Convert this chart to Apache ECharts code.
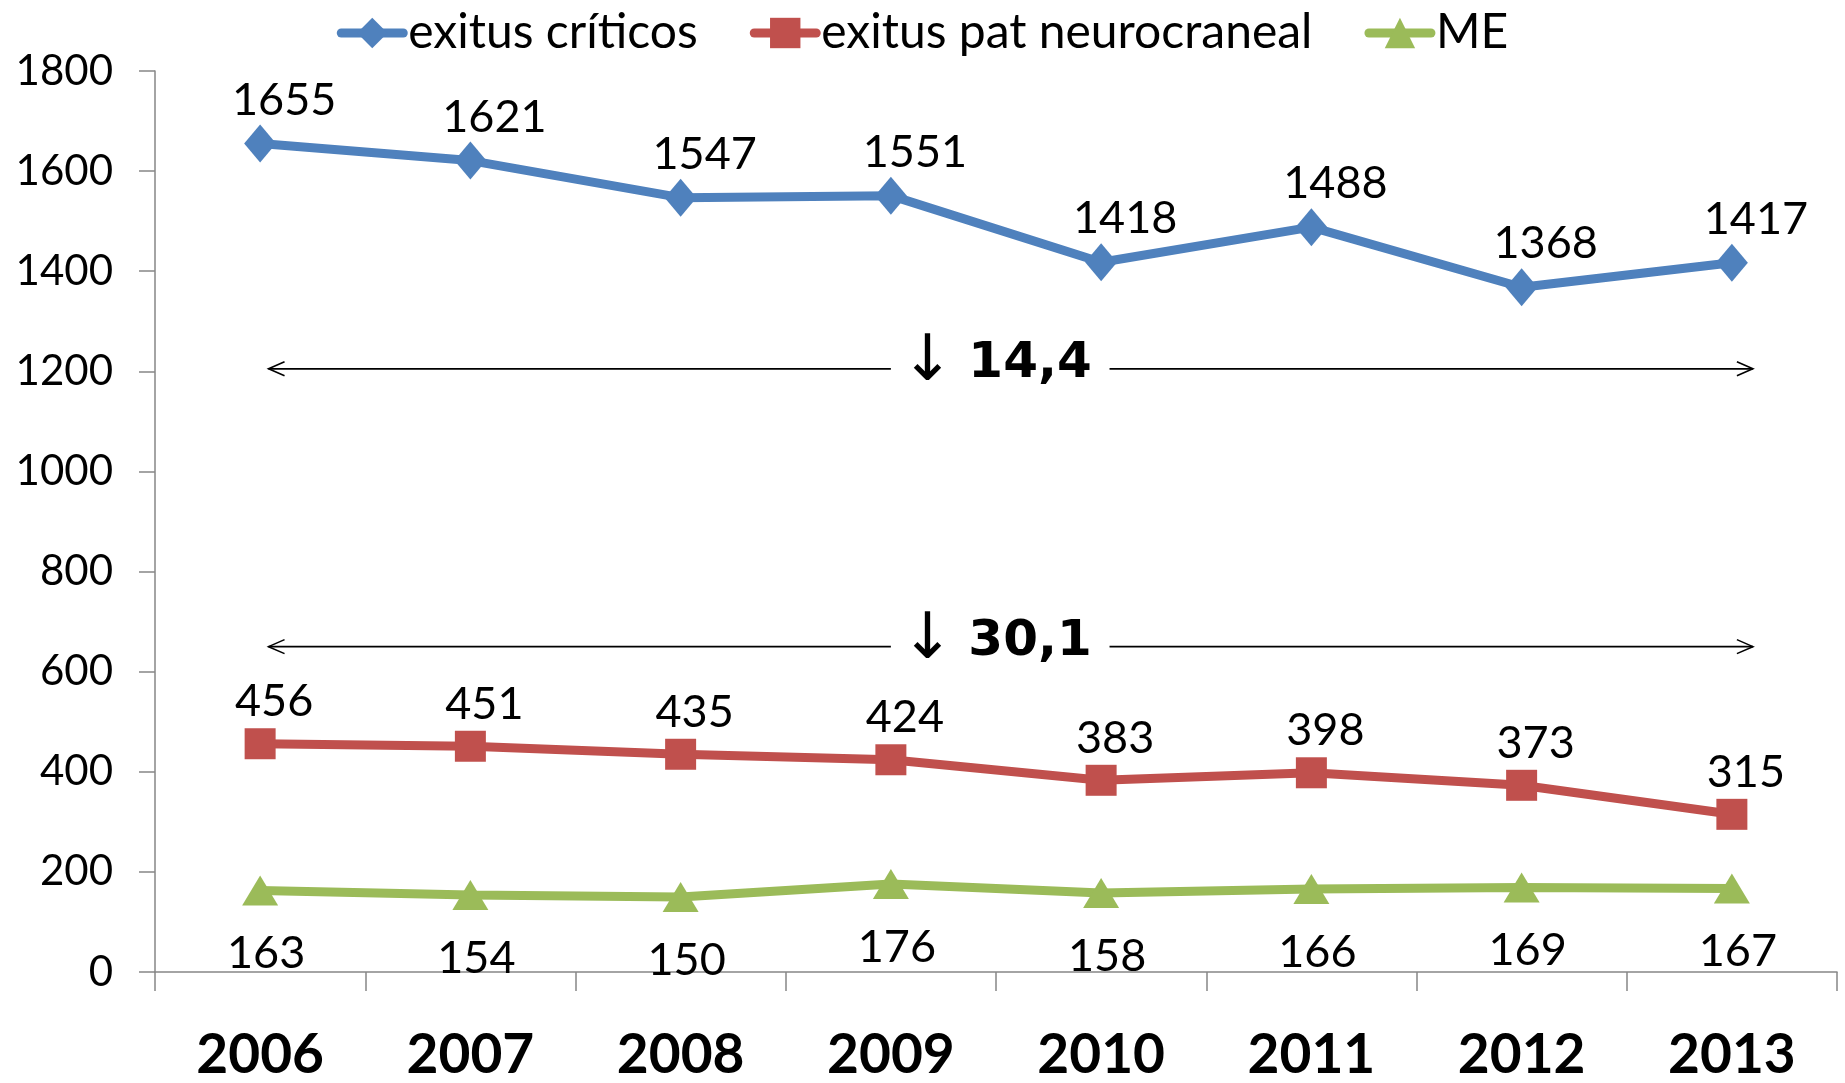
<!DOCTYPE html>
<html>
<head>
<meta charset="utf-8">
<script src="https://cdn.jsdelivr.net/npm/echarts@6/dist/echarts.min.js"></script>
<style>
html,body{margin:0;padding:0;background:#fff;}
#chart{width:1845px;height:1083px;}
</style>
</head>
<body>
<div id="chart"></div>
<script>
var years = ['2006','2007','2008','2009','2010','2011','2012','2013'];
var exitusCriticos = [1655,1621,1547,1551,1418,1488,1368,1417];
var exitusNeuro = [456,451,435,424,383,398,373,315];
var meValues = [163,154,150,176,158,166,169,167];
var seriesNames = ['exitus críticos','exitus pat neurocraneal','ME'];
var yTicks = {min:0,max:1800,interval:200};
// anotaciones: nivel en el eje y y texto
var annotLevels = [1205,650];
var annotTexts = ['14,4','30,1'];

var font = 'Lato, "Noto Sans", sans-serif';
var chart = echarts.init(document.getElementById('chart'));

var option = {
	animation:false,
	backgroundColor:'#fff',
	textStyle:{fontFamily:font},
	legend:{
		top:4,
		left:'center',
		itemWidth:62,
		itemHeight:38,
		itemGap:52,
		lineStyle:{width:9,cap:'round'},
		textStyle:{fontSize:48,color:'#000',fontFamily:font},
		data:seriesNames
	},
	grid:{left:155,right:8,top:71,bottom:111,containLabel:false},
	xAxis:{
		type:'category',
		data:years,
		axisLine:{lineStyle:{color:'#868686',width:1.5}},
		axisTick:{show:true,length:19,lineStyle:{color:'#868686',width:1.5}},
		axisLabel:{fontSize:55,fontWeight:'bold',color:'#000',margin:56,fontFamily:font},
		splitLine:{show:false}
	},
	yAxis:{
		type:'value',
		min:yTicks.min,max:yTicks.max,interval:yTicks.interval,
		axisLine:{show:true,lineStyle:{color:'#868686',width:1.5}},
		axisTick:{show:true,length:16,lineStyle:{color:'#868686',width:1.5}},
		axisLabel:{fontSize:42,color:'#000',margin:42,fontFamily:font,formatter:function(v){return String(v);}},
		splitLine:{show:false}
	},
	series:[{
		name:seriesNames[0],
		type:'line',
		data:exitusCriticos,
		symbol:'diamond',
		symbolSize:[32,38],
		lineStyle:{color:'#4F81BD',width:9},
		itemStyle:{color:'#4F81BD'},
		label:{show:true,position:'top',distance:2,offset:[24,0],fontSize:45,color:'#000',fontFamily:font}
	},{
		name:seriesNames[1],
		type:'line',
		data:exitusNeuro,
		symbol:'rect',
		symbolSize:31,
		lineStyle:{color:'#C0504D',width:9},
		itemStyle:{color:'#C0504D'},
		label:{show:true,position:'top',distance:4,offset:[14,0],fontSize:45,color:'#000',fontFamily:font}
	},{
		name:seriesNames[2],
		type:'line',
		data:meValues,
		symbol:'triangle',
		symbolSize:[36,30],
		lineStyle:{color:'#9BBB59',width:9},
		itemStyle:{color:'#9BBB59'},
		label:{show:true,position:'bottom',distance:26,offset:[6,0],fontSize:45,color:'#000',fontFamily:font}
	}]
};
chart.setOption(option);

// flechas dobles con el texto en el centro
function drawAnnotations(){
	var x0 = chart.convertToPixel({xAxisIndex:0},years[0]);
	var x1 = chart.convertToPixel({xAxisIndex:0},years[1]);
	var step = x1-x0;
	function px(f){return x0+f*step;}
	var left = px(0.04), right = px(7.1), gapL = px(3.0), gapR = px(4.04);
	var els = [];
	for(var i=0;i<annotLevels.length;i++){
		var y = chart.convertToPixel({yAxisIndex:0},annotLevels[i]);
		var st = {stroke:'#000',lineWidth:1.6,fill:null};
		els.push({type:'line',shape:{x1:left,y1:y,x2:gapL,y2:y},style:st,silent:true});
		els.push({type:'line',shape:{x1:gapR,y1:y,x2:right,y2:y},style:st,silent:true});
		els.push({type:'polyline',shape:{points:[[left+16,y-7],[left,y],[left+16,y+7]]},style:st,silent:true});
		els.push({type:'polyline',shape:{points:[[right-16,y-7],[right,y],[right-16,y+7]]},style:st,silent:true});
		els.push({
			type:'text',
			x:(gapL+gapR)/2-4,y:y-5,
			silent:true,
			style:{
				text:'{a|↓}{b|'+annotTexts[i]+'}',
				align:'center',verticalAlign:'middle',
				rich:{
					a:{fontSize:64,fontFamily:'"DejaVu Sans", sans-serif',color:'#1F3055',padding:[0,14,0,0]},
					b:{fontSize:50,fontWeight:'bold',fontFamily:'"DejaVu Sans", sans-serif',color:'#1F3055'}
				}
			}
		});
	}
	chart.setOption({graphic:els});
}
drawAnnotations();
</script>
</body>
</html>
